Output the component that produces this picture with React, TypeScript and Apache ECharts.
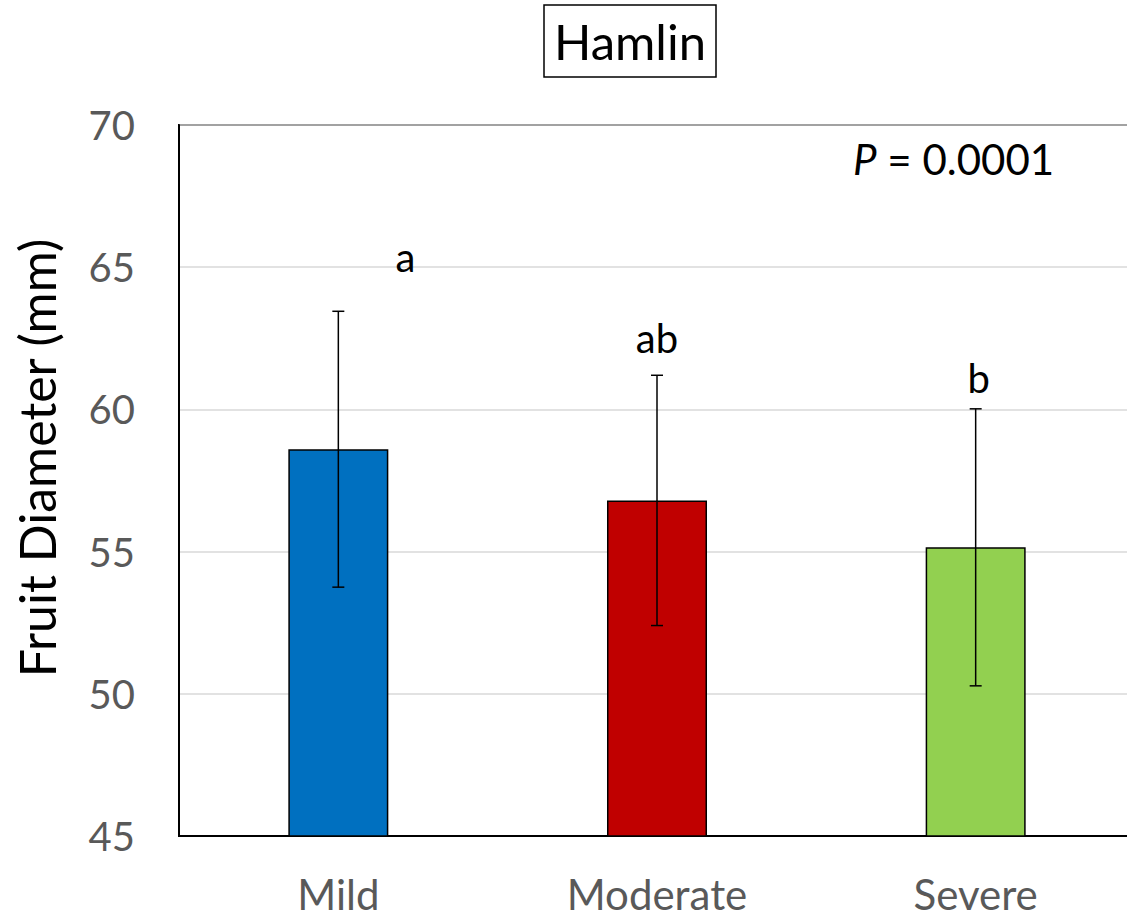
import React, { useEffect, useRef } from "react";
import * as echarts from "echarts";

const categories = ["Mild", "Moderate", "Severe"];
const means = [58.6, 56.8, 55.15];
const errors = [4.85, 4.4, 4.87];
const barColors = ["#0070C0", "#C00000", "#92D050"];
const letters = ["a", "ab", "b"];
const letterValues = [65.35, 62.5, 61.1];
const letterOffsetX = [67, 0, 3];
const yTicks = { min: 45, max: 70, interval: 5 };
const titleText = "Hamlin";
const yName = "Fruit Diameter (mm)";
const pValue = "0.0001";

const FONT = "Lato, 'Open Sans', sans-serif";

export default function App() {
  const ref = useRef<HTMLDivElement>(null);
  useEffect(() => {
    if (!ref.current) return;
    const chart = echarts.init(ref.current, undefined, { renderer: "svg" });
    const errData = categories.map((c, i) => [i, means[i] - errors[i], means[i] + errors[i]]);
    const letterData = categories.map((c, i) => [i, letterValues[i], i]);
    chart.setOption({
      animation: false,
      backgroundColor: "#fff",
      title: {
        text: titleText,
        left: 544,
        top: 5,
        borderColor: "#000",
        borderWidth: 1.5,
        padding: [6, 10, 6, 10],
        textStyle: { fontFamily: FONT, fontSize: 49, fontWeight: "normal", color: "#000", lineHeight: 60 },
      },
      grid: {
        left: 179,
        top: 125,
        right: 0,
        bottom: 82,
        show: true,
        borderColor: "#000",
        borderWidth: 2,
        backgroundColor: "transparent",
      },
      xAxis: {
        type: "category",
        data: categories,
        axisLine: { show: true, lineStyle: { color: "#000", width: 2 } },
        axisTick: { show: false },
        axisLabel: { fontFamily: FONT, fontSize: 42, lineHeight: 40, color: "#595959", margin: 38 },
      },
      yAxis: {
        type: "value",
        min: yTicks.min,
        max: yTicks.max,
        interval: yTicks.interval,
        axisLine: { show: true, lineStyle: { color: "#000", width: 2 } },
        axisTick: { show: false },
        axisLabel: { fontFamily: FONT, fontSize: 40, color: "#595959", margin: 44 },
        splitLine: { show: true, lineStyle: { color: "#d9d9d9", width: 1.5 } },
      },
      graphic: [
        {
          type: "text",
          left: 853,
          top: 138,
          style: {
            text: "{i|P} = " + pValue,
            rich: {
              i: { fontStyle: "italic", fontFamily: FONT, fontSize: 42, fill: "#000" },
            },
            fontFamily: FONT,
            fontSize: 42,
            fill: "#000",
          },
        },
        {
          type: "text",
          x: 37,
          y: 458,
          rotation: Math.PI / 2,
          style: {
            text: yName,
            fontFamily: FONT,
            fontSize: 50,
            fill: "#000",
            align: "center",
            verticalAlign: "middle",
          },
        },
      ],
      series: [
        {
          type: "bar",
          barWidth: 100,
          data: means.map((v, i) => ({
            value: v,
            itemStyle: { color: barColors[i], borderColor: "#000", borderWidth: 1.5 },
          })),
          z: 2,
        },
        {
          type: "custom",
          data: errData,
          z: 5,
          renderItem: (params: any, api: any) => {
            const x = api.value(0);
            const lo = api.coord([x, api.value(1)]);
            const hi = api.coord([x, api.value(2)]);
            const cap = 6;
            const style = { stroke: "#000", lineWidth: 1.5 };
            return {
              type: "group",
              children: [
                { type: "line", shape: { x1: hi[0], y1: hi[1], x2: lo[0], y2: lo[1] }, style },
                { type: "line", shape: { x1: hi[0] - cap, y1: hi[1], x2: hi[0] + cap, y2: hi[1] }, style },
                { type: "line", shape: { x1: lo[0] - cap, y1: lo[1], x2: lo[0] + cap, y2: lo[1] }, style },
              ],
            };
          },
        },
        {
          type: "custom",
          data: letterData,
          z: 6,
          renderItem: (params: any, api: any) => {
            const i = api.value(2);
            const p = api.coord([api.value(0), api.value(1)]);
            return {
              type: "text",
              x: p[0] + letterOffsetX[i],
              y: p[1],
              style: {
                text: letters[i],
                fontFamily: FONT,
                fontSize: 40,
                fill: "#000",
                align: "center",
                verticalAlign: "middle",
              },
            };
          },
        },
      ],
    });
    return () => chart.dispose();
  }, []);
  return (
    <div style={{ position: "fixed", left: 0, top: 0, width: 1127, height: 918, overflow: "hidden", background: "#fff" }}>
      <div ref={ref} style={{ width: 1135, height: 918 }} />
    </div>
  );
}
